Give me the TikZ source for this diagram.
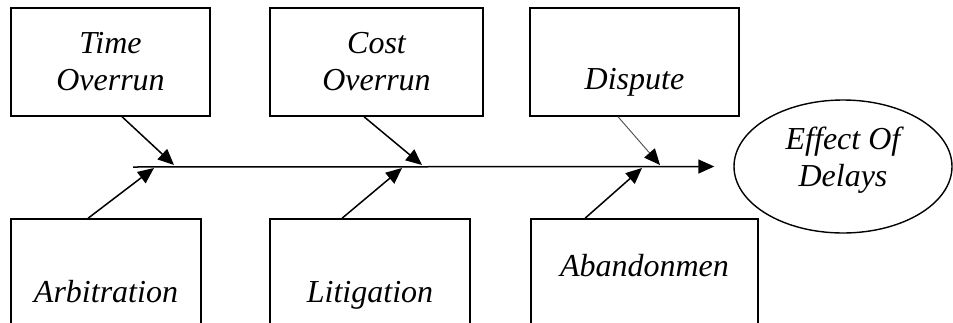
\documentclass[tikz,border=0pt]{standalone}
\usepackage{fontspec}
\setmainfont{Liberation Serif}
\usetikzlibrary{arrows.meta,shapes.geometric}

\tikzset{
  cause/.style={draw, line width=0.7pt, inner sep=0pt, align=center,
    font=\itshape\fontsize{16}{18.5}\selectfont},
  effectbox/.style={draw, ellipse, line width=0.7pt, inner sep=0pt, align=center,
    font=\itshape\fontsize{16}{18.5}\selectfont},
  bone/.style={line width=0.75pt, -{Triangle[length=8pt,width=7pt,color=black]}},
}

\begin{document}
\begin{tikzpicture}[x=0.5pt,y=-0.5pt]
\clip (0,0) rectangle (953,322);

% causes above the spine
\node[cause, minimum width=99.5pt, minimum height=54pt] (time) at (110.5,62) {Time\\Overrun};
\node[cause, minimum width=106.5pt, minimum height=54pt] (cost) at (376.5,62) {Cost\\Overrun};
\node[cause, minimum width=104.5pt, minimum height=54pt, text height=31pt] (dispute) at (634.5,62) {Dispute};

% causes below the spine
\node[cause, minimum width=95pt, minimum height=73pt] (arb) at (106,292) {Arbitration};
\node[cause, minimum width=100pt, minimum height=73pt, text depth=0pt] (lit) at (370,292) {Litigation};
\node[cause, minimum width=113.5pt, minimum height=73pt, text depth=27pt] (aban) at (644.5,292) {Abandonmen};

% effect
\node[effectbox, minimum width=109pt, minimum height=66.5pt, text depth=9.5pt] (effect) at (843,166.5) {Effect Of\\Delays};

% spine
\coordinate (tail) at (133,167);
\draw[bone] (tail) -- ([xshift=-9.5pt]effect.west);

% points on the spine
\coordinate (t1) at (174,165);
\coordinate (t2) at (422,165);
\coordinate (t3) at (660,165);
\coordinate (b1) at (154,168);
\coordinate (b2) at (402,168);
\coordinate (b3) at (642,168);

% bones
\draw[bone] ([xshift=5.75pt]time.south) -- (t1);
\draw[bone] ([xshift=-6.25pt]cost.south) -- (t2);
\draw[bone, line width=0.45pt, draw=black!70] ([xshift=-8.25pt]dispute.south) -- (t3);
\draw[bone] ([xshift=-9pt]arb.north) -- (b1);
\draw[bone] ([xshift=-14pt]lit.north) -- (b2);
\draw[bone] ([xshift=-29.75pt]aban.north) -- (b3);
\end{tikzpicture}
\end{document}
